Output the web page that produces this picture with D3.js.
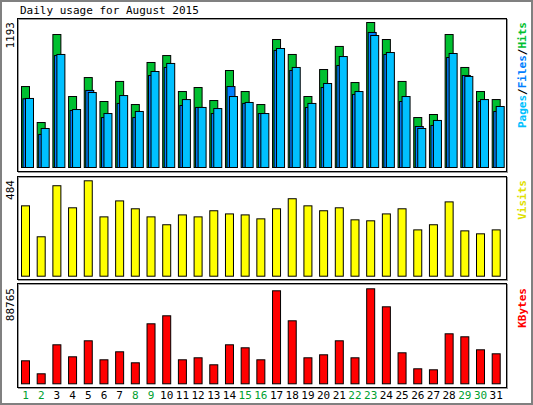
<!DOCTYPE html>
<html><head><meta charset="utf-8">
<script src="https://cdn.jsdelivr.net/npm/d3@7"></script>
<style>body{margin:0;background:#fff}svg text{font-family:"DejaVu Sans Mono",monospace;font-size:11px}</style>
</head><body>
<svg id="c" width="533" height="405"></svg>
<script>
const days = d3.range(1, 32)
const weekend = [1, 2, 8, 9, 15, 16, 22, 23, 29, 30]
const hits = [666,370,1094,584,740,543,708,518,864,921,625,658,551,798,625,518,1053,930,584,806,996,699,1193,1053,708,411,436,1094,823,625,559]
const files = [565,272,921,469,634,411,527,411,757,823,510,494,444,666,527,444,963,798,494,658,839,601,1111,930,543,337,346,905,757,543,461]
const pages = [568,321,930,477,617,444,592,461,790,856,559,494,485,584,535,444,979,823,527,691,913,625,1086,946,584,321,387,938,749,559,502]
const visits = [357,200,459,347,484,301,382,342,301,261,311,301,332,316,311,291,342,393,357,332,347,286,281,316,342,235,261,377,230,215,235]
const kbytes = [21491,9344,36441,25228,40178,22425,29900,19622,56063,63538,22425,24294,17753,36441,33638,22425,86897,58866,24294,27097,40178,24294,88765,71947,28966,14016,13081,46719,43916,31769,28031]

const svg = d3.select('#c')
svg.append('rect').attr('x',1).attr('y',1).attr('width',531).attr('height',403)
  .attr('fill','#fff').attr('stroke','#808080').attr('stroke-width',2)
svg.append('text').attr('x',20).attr('y',14).text('Daily usage for August 2015')

const x = d3.scaleLinear().domain([1, 31]).range([21, 491.7])

function frame(y0, y1) {
  svg.append('rect').attr('x',18.5).attr('y',y0+1.5).attr('width',489).attr('height',y1-y0)
    .attr('fill','none').attr('stroke','#999').attr('stroke-width',1)
  svg.append('rect').attr('x',17.5).attr('y',y0+0.5).attr('width',489).attr('height',y1-y0)
    .attr('fill','none').attr('stroke','#000').attr('stroke-width',1)
}
function bars(data, y, color, dx, w) {
  svg.append('g').selectAll('rect').data(data).join('rect')
    .attr('x', (d, i) => x(i + 1) + dx + 0.5)
    .attr('y', d => y(d) + 0.5)
    .attr('width', w)
    .attr('height', d => y(0) - y(d))
    .attr('fill', color).attr('stroke', '#000').attr('stroke-width', 1)
}
function leftLabel(txt, y) {
  svg.append('text').attr('transform', `translate(14,${y}) rotate(-90)`)
    .attr('text-anchor','end').text(txt)
}
function rightLabel(parts, y) {
  const t = svg.append('text').attr('transform', `translate(526,${y}) rotate(-90)`)
    .attr('text-anchor','end').style('font-weight','bold')
  parts.forEach(p => t.append('tspan').attr('fill', p[1]).text(p[0]))
}

// hits / files / pages
frame(18, 171)
const y1 = d3.scaleLinear().domain([0, 1193]).range([167, 22])
bars(hits, y1, '#00c030', 0, 8)
bars(files, y1, '#0080ff', 1.5, 8)
bars(pages, y1, '#00c0ff', 4, 8)
leftLabel('1193', 22)
rightLabel([['Pages','#00c0ff'],['/','#000'],['Files','#0080ff'],['/','#000'],['Hits','#00c030']], 22)

// visits
frame(176, 279)
const y2 = d3.scaleLinear().domain([0, 484]).range([275.7, 180.3])
bars(visits, y2, '#ffff00', 0, 8)
leftLabel('484', 180)
rightLabel([['Visits','#e0e000']], 180)

// kbytes
frame(283, 387)
const y3 = d3.scaleLinear().domain([0, 88765]).range([383.3, 288.3])
bars(kbytes, y3, '#ff0000', 0, 8)
leftLabel('88765', 288)
rightLabel([['KBytes','#ff0000']], 288)

svg.append('g').selectAll('text').data(days).join('text')
  .attr('x', d => x(d) + 4.5).attr('y', 399)
  .attr('text-anchor','middle')
  .attr('fill', d => weekend.includes(d) ? '#00a030' : '#000')
  .text(d => d)
</script>
</body></html>
